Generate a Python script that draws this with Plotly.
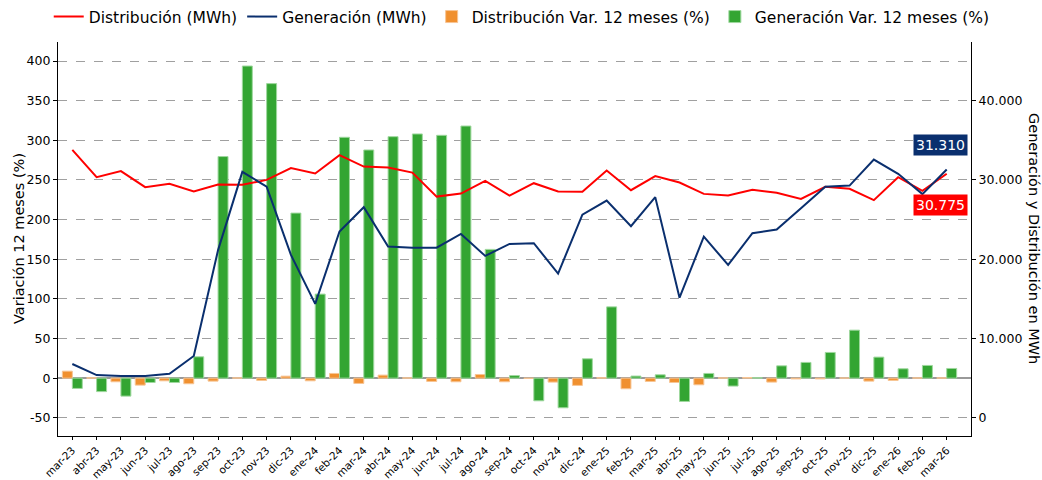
import plotly.graph_objects as go

months = ["mar-23", "abr-23", "may-23", "jun-23", "jul-23", "ago-23", "sep-23", "oct-23",
          "nov-23", "dic-23", "ene-24", "feb-24", "mar-24", "abr-24", "may-24", "jun-24",
          "jul-24", "ago-24", "sep-24", "oct-24", "nov-24", "dic-24", "ene-25", "feb-25",
          "mar-25", "abr-25", "may-25", "jun-25", "jul-25", "ago-25", "sep-25", "oct-25",
          "nov-25", "dic-25", "ene-26", "feb-26", "mar-26"]

dist_mwh = [33800, 30350, 31110, 29090, 29510, 28540, 29420, 29380, 30010, 31490, 30810, 33130,
            31690, 31570, 30930, 27900, 28280, 29890, 28030, 29590, 28540, 28500, 31190, 28710,
            30480, 29670, 28240, 28030, 28750, 28370, 27610, 29130, 28880, 27450, 30350, 28620,
            30775]

gen_mwh = [6780, 5390, 5260, 5260, 5560, 7790, 21150, 31020, 29150, 20540, 14360, 23490,
           26560, 21590, 21460, 21460, 23190, 20420, 21930, 22020, 18180, 25630, 27400, 24170,
           27830, 15150, 22850, 19280, 23280, 23740, 26440, 29130, 29290, 32570, 30770, 28210,
           31310]

dist_var = [8.8, 0.4, -4.6, -8.8, -3.4, -7.1, -3.8, 0.3, -2.9, 2.5, -3.4, 5.9,
            -6.7, 3.8, 0.3, -4.2, -4.6, 4.6, -4.6, -0.3, -5.0, -9.2, 0.5, -13.4,
            -4.2, -5.5, -8.4, 0.3, 0.8, -5.0, -1.0, -1.0, 0.2, -3.8, -2.9, 0.3, 0.3]

gen_var = [-13.0, -17.0, -22.7, -5.5, -5.5, 26.9, 279.5, 393.7, 371.5, 208.2, 106.0, 303.8,
           287.8, 304.6, 308.0, 306.3, 318.0, 162.4, 3.2, -28.6, -37.4, 24.4, 89.9, 2.6,
           4.2, -29.4, 5.9, -10.0, 0.5, 15.5, 19.8, 32.4, 60.5, 26.5, 11.8, 16.0, 12.2]

left_ticks = [-50, 0, 50, 100, 150, 200, 250, 300, 350, 400]
left_ticktext = ["-50", "0", "50", "100", "150", "200", "250", "300", "350", "400"]
right_ticks = [0, 10000, 20000, 30000, 40000]

RED = "#ff0000"
NAVY = "#0a2f6e"
ORANGE = "#f0902f"
GREEN = "#33a532"
FONT = "DejaVu Sans"

fig = go.Figure()

fig.add_trace(go.Bar(x=months, y=dist_var, name="Distribución Var. 12 meses (%)",
                     marker=dict(color=ORANGE, line=dict(color="#f7c595", width=1)),
                     yaxis="y", legendrank=3))
fig.add_trace(go.Bar(x=months, y=gen_var, name="Generación Var. 12 meses (%)",
                     marker=dict(color=GREEN, line=dict(color="#9fd89e", width=1)),
                     yaxis="y", legendrank=4))
fig.add_trace(go.Scatter(x=months, y=dist_mwh, name="Distribución (MWh)", mode="lines",
                         line=dict(color=RED, width=2), yaxis="y2", legendrank=1))
fig.add_trace(go.Scatter(x=months, y=gen_mwh, name="Generación (MWh)", mode="lines",
                         line=dict(color=NAVY, width=2), yaxis="y2", legendrank=2))


def fmt(v):
    return f"{v:,}".replace(",", ".")


fig.update_layout(
    width=1042, height=480,
    margin=dict(l=58, r=71, t=42, b=44, autoexpand=False),
    paper_bgcolor="white", plot_bgcolor="white",
    font=dict(family=FONT, size=12.5, color="black"),
    separators=",.",
    barmode="group", bargap=0.18, bargroupgap=0,
    showlegend=True,
    legend=dict(orientation="h", xref="paper", yref="paper",
                x=1.026, xanchor="right", y=1.0635, yanchor="middle",
                font=dict(size=15.5, family=FONT), itemwidth=30, traceorder="normal",
                bgcolor="rgba(0,0,0,0)"),
    xaxis=dict(type="category", range=[-0.59, 37.0], tickangle=-45, ticks="outside",
               ticklen=3, tickcolor="black", showline=True, linecolor="black", linewidth=1.2,
               showgrid=False, zeroline=False, tickfont=dict(size=10.5)),
    yaxis=dict(range=[-73, 424], tickvals=left_ticks, ticktext=left_ticktext,
               ticks="outside", ticklen=4, tickcolor="black",
               showline=True, linecolor="black", linewidth=1.2,
               showgrid=True, gridcolor="#a0a0a0", griddash="dash", gridwidth=1.2,
               zeroline=True, zerolinecolor="#999999", zerolinewidth=2,
               tickfont=dict(size=12.5)),
    yaxis2=dict(overlaying="y", side="right", range=[-2300, 47400], tickvals=right_ticks,
                tickformat=",d", ticks="outside", ticklen=4, tickcolor="black",
                showline=True, linecolor="black", linewidth=1.2, showgrid=False,
                zeroline=False, tickfont=dict(size=12.5)),
    annotations=[
        dict(text="Variación 12 meses (%)", xref="paper", yref="paper", x=-0.0427, y=0.5,
             textangle=-90, showarrow=False, font=dict(size=14.5, family=FONT),
             xanchor="center", yanchor="middle"),
        dict(text="Generación y Distribución en MWh", xref="paper", yref="paper", x=1.069,
             y=0.5, textangle=90, showarrow=False, font=dict(size=14.5, family=FONT),
             xanchor="center", yanchor="middle"),
        dict(text=fmt(gen_mwh[-1]), xref="paper", yref="y2", x=0.9967, y=gen_mwh[-1],
             yshift=25, xanchor="right", yanchor="middle", showarrow=False,
             bgcolor=NAVY, font=dict(color="white", size=14, family=FONT), borderpad=2),
        dict(text=fmt(dist_mwh[-1]), xref="paper", yref="y2", x=0.9967, y=dist_mwh[-1],
             yshift=-31, xanchor="right", yanchor="middle", showarrow=False,
             bgcolor=RED, font=dict(color="white", size=14, family=FONT), borderpad=2),
    ],
)

fig.write_html("out.html", config={"displayModeBar": False},
               post_script="document.body.style.margin='0px';")
